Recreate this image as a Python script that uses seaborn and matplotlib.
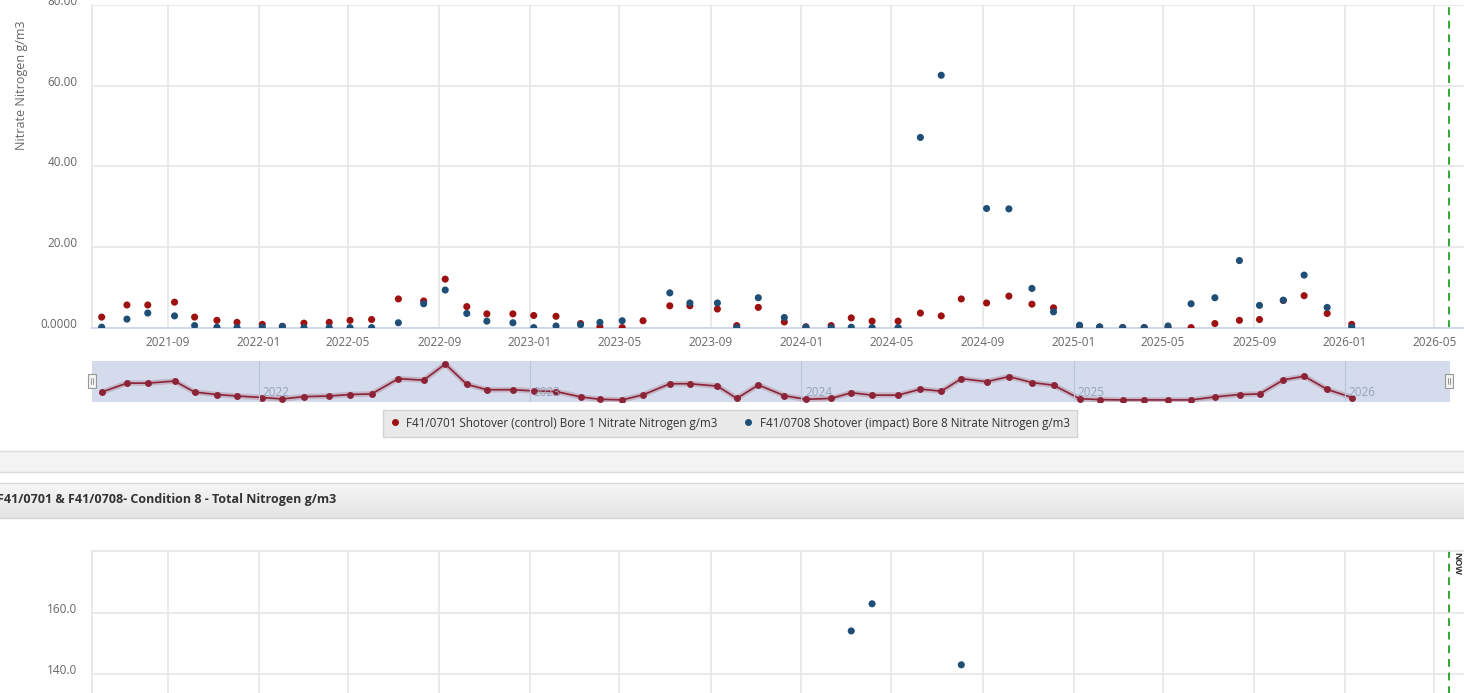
import pandas as pd
import matplotlib
matplotlib.use("Agg")
import matplotlib.pyplot as plt
import matplotlib.dates as mdates
import matplotlib.transforms as mtransforms
from matplotlib.patches import Rectangle
from matplotlib.lines import Line2D
import numpy as np
import seaborn as sns

# Sample dates (roughly monthly)
sample_dates = [
    "2021-06-04", "2021-07-08", "2021-08-05", "2021-09-10", "2021-10-07", "2021-11-06",
    "2021-12-03", "2022-01-06", "2022-02-02", "2022-03-03", "2022-04-06", "2022-05-04",
    "2022-06-02", "2022-07-08", "2022-08-11", "2022-09-09", "2022-10-08", "2022-11-04",
    "2022-12-09", "2023-01-06", "2023-02-05", "2023-03-10", "2023-04-05", "2023-05-05",
    "2023-06-02", "2023-07-08", "2023-08-04", "2023-09-10", "2023-10-06", "2023-11-04",
    "2023-12-09", "2024-01-07", "2024-02-10", "2024-03-08", "2024-04-05", "2024-05-10",
    "2024-06-09", "2024-07-07", "2024-08-03", "2024-09-06", "2024-10-06", "2024-11-06",
    "2024-12-05", "2025-01-09", "2025-02-05", "2025-03-08", "2025-04-06", "2025-05-08",
    "2025-06-08", "2025-07-10", "2025-08-12", "2025-09-08", "2025-10-10", "2025-11-07",
    "2025-12-08", "2026-01-10",
]

# Nitrate nitrogen g/m3, control bore (red) and impact bore (blue)
control_no3 = [
    2.7, 5.7, 5.7, 6.4, 2.7, 1.9, 1.4, 0.9, 0.4, 1.2, 1.4, 1.9,
    2.1, 7.2, 6.7, 12.1, 5.3, 3.5, 3.5, 3.1, 2.9, 1.1, 0.3, 0.1,
    1.8, 5.5, 5.5, 4.7, 0.6, 5.1, 1.5, 0.3, 0.6, 2.5, 1.7, 1.7,
    3.7, 3.0, 7.2, 6.2, 7.9, 5.9, 5.0, 0.5, 0.2, 0.1, 0.1, 0.1,
    0.1, 1.1, 1.9, 2.1, 6.8, 8.0, 3.6, 0.9,
]
impact_no3 = [
    0.2, 2.2, 3.7, 3.0, 0.6, 0.2, 0.1, 0.2, 0.4, 0.1, 0.1, 0.1,
    0.1, 1.3, 6.0, 9.4, 3.6, 1.7, 1.3, 0.1, 0.5, 0.8, 1.4, 1.8,
    None, 8.7, 6.2, 6.2, 0.1, 7.5, 2.6, 0.2, 0.1, 0.2, 0.1, 0.1,
    47.2, 62.6, None, 29.6, 29.5, 9.8, 4.0, 0.7, 0.3, 0.1, 0.1, 0.5,
    6.0, 7.5, 16.7, 5.6, 6.9, 13.1, 5.1, 0.2,
]

# Total nitrogen: only the points visible in the cropped lower chart
tn_dates = ["2024-03-08", "2024-04-05", "2024-08-03"]
tn_impact = [154.1, 163.0, 143.0]

control_label = "F41/0701 Shotover (control) Bore 1 Nitrate Nitrogen g/m3"
impact_label = "F41/0708 Shotover (impact) Bore 8 Nitrate Nitrogen g/m3"
no3_ticks = [0, 20, 40, 60, 80]
no3_ticklabels = ["0.0000", "20.00", "40.00", "60.00", "80.00"]
tn_ticks = [140, 160]
tn_ticklabels = ["140.0", "160.0"]
nav_years = ["2022", "2023", "2024", "2025", "2026"]
panel_title = "F41/0701 & F41/0708- Condition 8 - Total Nitrogen g/m3"
now_date = "2026-05-21"

RED = "#9e1111"
BLUE = "#1f4e76"
GRID = "#e6e6e6"
TXT = "#666666"

sns.set_theme(style="white")
plt.rcParams["font.family"] = ["Open Sans", "DejaVu Sans"]

W, H = 1464, 693
fig = plt.figure(figsize=(W / 100, H / 100), dpi=100)
fig.patch.set_facecolor("white")


def px(l, t, r, b):
    return [l / W, 1 - b / H, (r - l) / W, (b - t) / H]


def fig_rect(l, t, r, b, **kw):
    fig.add_artist(Rectangle((l / W, 1 - b / H), (r - l) / W, (b - t) / H,
                             transform=fig.transFigure, **kw))


df = pd.DataFrame({
    "date": pd.to_datetime(sample_dates * 2),
    "value": pd.to_numeric(pd.Series(control_no3 + impact_no3), errors="coerce"),
    "series": [control_label] * len(sample_dates) + [impact_label] * len(sample_dates),
}).dropna()

# x range: same time scale for all panels
x_left = pd.Timestamp("2021-05-22")
x_right = pd.Timestamp("2026-06-10")
nav_right = pd.Timestamp("2026-05-22")
month_loc = mdates.MonthLocator(bymonth=[1, 5, 9])


def style_axes(ax):
    ax.set_facecolor("white")
    for s in ["top", "right"]:
        ax.spines[s].set_visible(False)
    ax.spines["left"].set_color(GRID)
    ax.xaxis.set_major_locator(month_loc)
    ax.xaxis.set_major_formatter(mdates.DateFormatter("%Y-%m"))
    ax.grid(True, axis="both", color=GRID, linewidth=1.2)
    ax.set_axisbelow(True)
    ax.tick_params(axis="both", length=0, colors=TXT, labelsize=8.5)
    ax.tick_params(axis="y", pad=10.5)
    ax.tick_params(axis="x", pad=6)
    ax.set_xlabel("")
    ax.set_ylabel("")
    ax.set_xlim(x_left, x_right)
    shift = mtransforms.ScaledTranslation(0, 0.05, fig.dpi_scale_trans)
    for lab in ax.get_yticklabels():
        lab.set_transform(lab.get_transform() + shift)


# ---- top chart: nitrate nitrogen ----
ax = fig.add_axes(px(92, 5, 1464, 328))
sns.scatterplot(data=df, x="date", y="value", hue="series",
                hue_order=[control_label, impact_label], palette=[RED, BLUE],
                s=26, edgecolor="none", legend=False, ax=ax, zorder=3)
ax.set_ylim(0, 80)
ax.set_yticks(no3_ticks)
ax.set_yticklabels(no3_ticklabels)
ax.spines["bottom"].set_color("#ccd6eb")
ax.axvline(pd.Timestamp(now_date), color="#2eaa2e", linestyle=(0, (4, 3)), linewidth=1.4)
style_axes(ax)
fig.text(22 / W, 1 - 85 / H, "Nitrate Nitrogen g/m3", rotation=90,
         ha="center", va="center", color=TXT, fontsize=9)

# ---- navigator ----
nav = fig.add_axes(px(92, 361, 1450, 402))
nav.set_facecolor("#d3dbec")
nav_dates = pd.to_datetime(sample_dates)
nav.plot(nav_dates, control_no3, color="#8c2337", linewidth=4, alpha=0.2)
sns.lineplot(x=nav_dates, y=control_no3, color="#8c2337", linewidth=1.2,
             marker="o", markersize=5, markeredgewidth=0, ax=nav)
for yr in nav_years:
    d = pd.Timestamp(yr + "-01-01")
    nav.axvline(d, color="#bcc6da", linewidth=0.8)
    nav.text(d + pd.Timedelta(days=5), 0.22, yr, transform=nav.get_xaxis_transform(),
             color="#97a4bb", fontsize=8.5, ha="left", va="center")
nav.set_xlim(x_left, nav_right)
nav.set_ylim(-0.6, 13.1)
nav.set_xticks([])
nav.set_yticks([])
nav.set_xlabel("")
nav.set_ylabel("")
for s in nav.spines.values():
    s.set_visible(False)

for cx in (92, 1449):
    fig_rect(cx - 4, 374, cx + 4, 388, facecolor="#f2f2f2", edgecolor="#999999", linewidth=0.8)
    for dx in (-1, 1):
        fig.add_artist(Line2D([(cx + dx) / W] * 2, [1 - 378 / H, 1 - 384 / H],
                              transform=fig.transFigure, color="#888888", linewidth=0.6))

# ---- legend ----
handles = [
    Line2D([], [], marker="o", linestyle="", color=RED, markersize=4, label=control_label),
    Line2D([], [], marker="o", linestyle="", color=BLUE, markersize=4, label=impact_label),
]
leg = fig.legend(handles=handles, loc="center", bbox_to_anchor=(730 / W, 1 - 423 / H),
                 ncol=2, fontsize=8.4, frameon=True, fancybox=False, handlelength=0.8,
                 handletextpad=0.6, columnspacing=2.2, borderpad=0.6)
leg.get_frame().set_facecolor("#e9e9e9")
leg.get_frame().set_edgecolor("#d4d4d4")
leg.get_frame().set_alpha(1)
for t in leg.get_texts():
    t.set_color("#333333")

# ---- panel bands ----
fig_rect(-2, 451, W + 2, 472, facecolor="#f3f3f3", edgecolor="#dcdcdc", linewidth=1)
hdr = fig.add_axes(px(0, 483, W, 518))
grad = np.linspace(0, 1, 50).reshape(-1, 1)
hdr.imshow(grad, aspect="auto", cmap=matplotlib.colors.LinearSegmentedColormap.from_list(
    "hdr", ["#f6f6f6", "#e4e4e4"]), extent=[0, 1, 0, 1])
hdr.set_axis_off()
fig.add_artist(Line2D([0, 1], [1 - 483 / H] * 2, transform=fig.transFigure, color="#dadada", lw=1))
fig.add_artist(Line2D([0, 1], [1 - 518 / H] * 2, transform=fig.transFigure, color="#d6d6d6", lw=1))
fig.text(-3 / W, 1 - 499 / H, panel_title, ha="left", va="center",
         fontsize=9, fontweight="bold", color="#333333")

# ---- lower chart: total nitrogen ----
ax2 = fig.add_axes(px(92, 551, 1464, 760))
sns.scatterplot(x=pd.to_datetime(tn_dates), y=tn_impact, color=BLUE, s=26,
                edgecolor="none", ax=ax2, zorder=3)
ax2.set_ylim(111.8, 180.3)
ax2.set_yticks(tn_ticks)
ax2.set_yticklabels(tn_ticklabels)
ax2.axvline(pd.Timestamp(now_date), color="#2eaa2e", linestyle=(0, (4, 3)), linewidth=1.4)
style_axes(ax2)
ax2.spines["top"].set_visible(True)
ax2.spines["top"].set_color(GRID)
ax2.spines["bottom"].set_visible(False)
ax2.set_xticklabels([])
fig.text(1457 / W, 1 - 563 / H, "NOW", rotation=270, ha="center", va="center",
         fontsize=6.5, fontweight="bold", color="#333333")

fig.savefig("out.png", dpi=100, facecolor="white")
